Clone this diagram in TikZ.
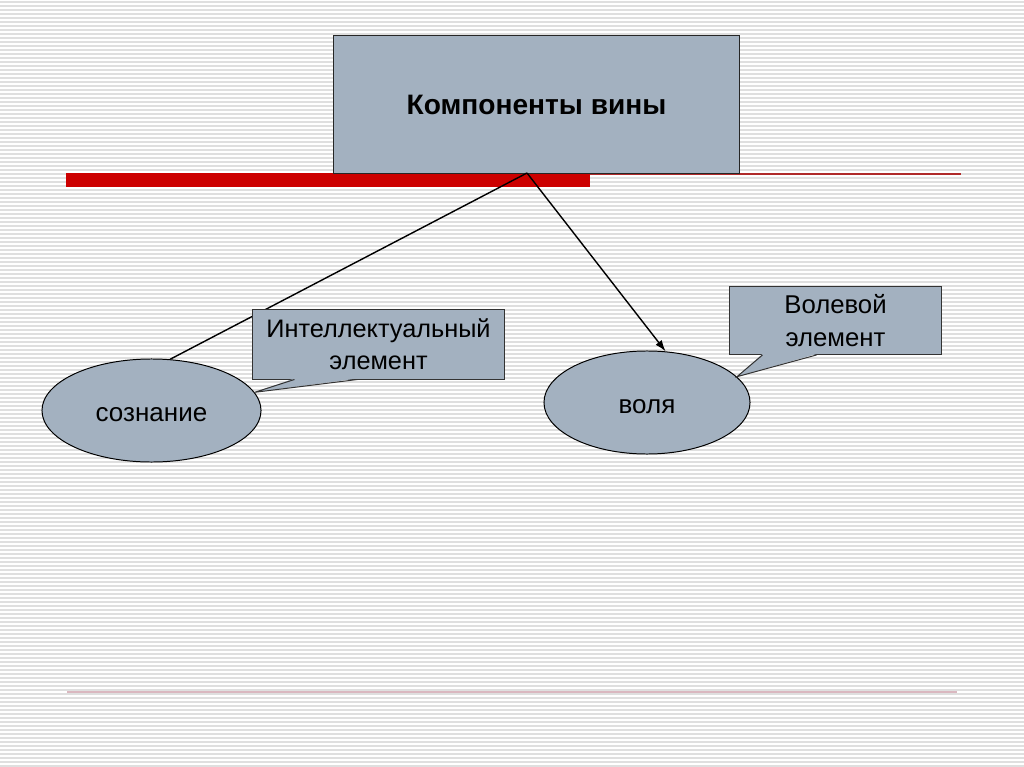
\documentclass[tikz,border=0pt]{standalone}
\usepackage{fontspec}
\setmainfont{Liberation Sans}
\usetikzlibrary{shapes.geometric,arrows.meta,calc}
\definecolor{slate}{HTML}{A3B1C0}
\definecolor{barred}{HTML}{CC0000}
\definecolor{rulered}{HTML}{B02A2A}
\definecolor{paleline}{HTML}{DAB8C0}
\definecolor{stripe}{HTML}{DFDFDF}
\tikzset{
  titlebox/.style={draw=black!85, fill=slate, line width=0.7pt,
    minimum width=10.125cm, minimum height=3.425cm,
    font=\fontsize{20}{24}\selectfont\bfseries},
  notebox/.style={draw=black!80, fill=slate, line width=0.7pt, align=center,
    font=\fontsize{18.3}{23}\selectfont},
  oval/.style={ellipse, draw=black, fill=slate, line width=0.7pt, inner sep=0pt,
    minimum height=2.575cm, text height=15pt, text depth=0pt,
    font=\fontsize{18.5}{20}\selectfont},
  link/.style={line width=1pt},
}
\begin{document}
\begin{tikzpicture}[x=0.025cm,y=-0.025cm]
  % Page with striped background
  \useasboundingbox (0,0) rectangle (1024,767);
  \fill[white] (0,0) rectangle (1024,767);
  \foreach \y in {2,6,...,766}
    \draw[stripe, line width=1.3pt] (0,\y) -- (1024,\y);

  % Red rules
  \fill[barred] (66,173) rectangle (590,187);
  \draw[rulered, line width=0.9pt] (590,174) -- (961,174);
  \draw[paleline, line width=1.2pt] (67,692) -- (957,692);

  % Title and the two components
  \node[titlebox] (title) at (536.5,104.5) {Компоненты вины};
  \node[oval, minimum width=5.475cm] (sozn) at (151.5,410.5) {сознание};
  \node[oval, minimum width=5.15cm] (volya) at (647,402.5) {воля};
  \coordinate (hub) at (527,173);
  \draw[link] (hub) -- (sozn.70);
  \draw[link, -{Latex[length=8pt,width=5.5pt]}] (hub) -- (volya.70);

  % Callouts with their tails
  \node[notebox, font=\fontsize{18}{23}\selectfont,
    minimum width=6.275cm, minimum height=1.725cm] (intel)
    at (378.5,344.5) {Интеллектуальный\\элемент};
  \fill[slate] ($(intel.south west)+(42,-1)$) -- (sozn.10)
    -- ($(intel.south west)+(105,-1)$) -- cycle;
  \draw[black!80, line width=0.7pt] ($(intel.south west)+(42,0)$) -- (sozn.10)
    -- ($(intel.south west)+(105,0)$);

  \node[notebox, minimum width=5.275cm, minimum height=1.7cm] (volel)
    at (835.5,320.5) {Волевой\\элемент};
  \fill[slate] ($(volel.south west)+(33,-1)$) -- (volya.16)
    -- ($(volel.south west)+(87,-1)$) -- cycle;
  \draw[black!80, line width=0.7pt] ($(volel.south west)+(33,0)$) -- (volya.16)
    -- ($(volel.south west)+(87,0)$);
\end{tikzpicture}
\end{document}
